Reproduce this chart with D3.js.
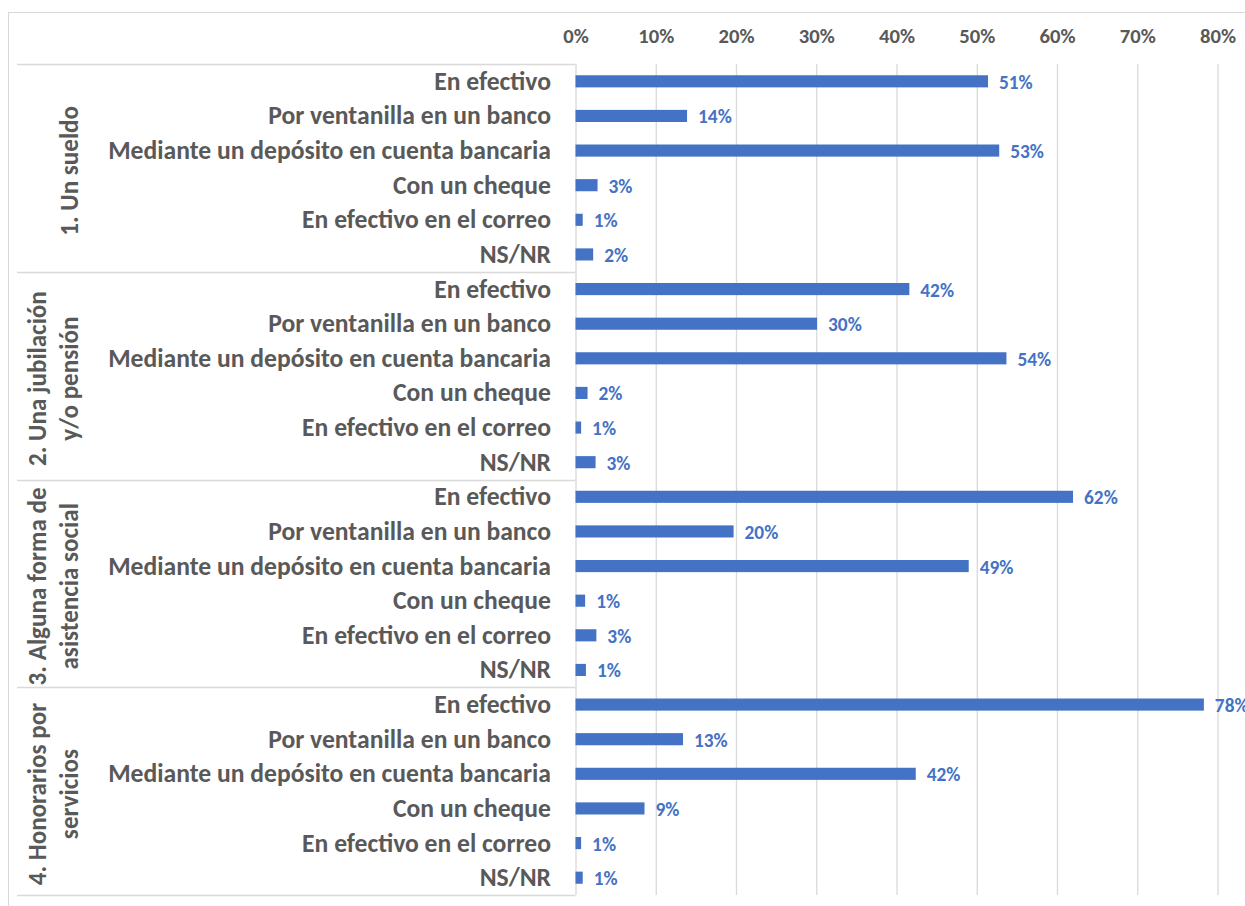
<!DOCTYPE html>
<html>
<head>
<meta charset="utf-8">
<script src="https://cdn.jsdelivr.net/npm/d3@7"></script>
<style>
  html, body { margin: 0; padding: 0; background: #ffffff; }
  svg { display: block; }
</style>
</head>
<body>
<svg id="chart" width="1245" height="906"></svg>
<script>
// ---------- DATA ----------
const groupLines = [
  ["1. Un sueldo"],
  ["2. Una jubilación", "y/o pensión"],
  ["3. Alguna forma de", "asistencia social"],
  ["4. Honorarios por", "servicios"]
];
const methods = [
  "En efectivo",
  "Por ventanilla en un banco",
  "Mediante un depósito en cuenta bancaria",
  "Con un cheque",
  "En efectivo en el correo",
  "NS/NR"
];
const sueldo     = [51.4, 13.9, 52.8, 2.75, 0.9, 2.2];
const jubilacion = [41.6, 30.1, 53.7, 1.5, 0.7, 2.5];
const asistencia = [62.0, 19.7, 49.0, 1.2, 2.6, 1.3];
const honorarios = [78.3, 13.4, 42.4, 8.6, 0.7, 0.9];
const xTicks = [0, 10, 20, 30, 40, 50, 60, 70, 80];

const seriesByGroup = [sueldo, jubilacion, asistencia, honorarios];
const rows = [];
groupLines.forEach((g, gi) => {
  methods.forEach((m, mi) => {
    rows.push({ key: gi + "|" + mi, group: gi, method: m, value: seriesByGroup[gi][mi] });
  });
});

// ---------- LAYOUT ----------
const FONT = "Carlito, Lato, 'Open Sans', sans-serif";
const gray = "#595959";
const lineGray = "#d9d9d9";
const blue = "#4472C4";

const plotLeft = 575.5, plotRight = 1217.5, plotTop = 64, plotBottom = 895;

const svg = d3.select("#chart");

// font fitting helper
function fit(text, target, weight) {
  const t = svg.append("text").attr("font-family", FONT).attr("font-weight", weight)
    .attr("font-size", 100).text(text);
  const w = t.node().getComputedTextLength();
  t.remove();
  return 100 * target / w;
}
const catSize = fit("Mediante un depósito en cuenta bancaria", 443, "bold");
const tickSize = fit("80%", 36, "bold");
const valSize = fit("42%", 33.7, "bold");
const grpSize = (fit("1. Un sueldo", 130, "bold") + fit("3. Alguna forma de", 198, "bold")) / 2;

const x = d3.scaleLinear().domain([0, 80]).range([plotLeft, plotRight]);
const yBar = d3.scaleBand().domain(rows.map(r => r.key)).range([plotTop, plotBottom])
  .paddingInner(0.65).paddingOuter(0.325);
const yRow = d3.scaleBand().domain(rows.map(r => r.key)).range([plotTop, plotBottom]).padding(0);
const yGroup = d3.scaleBand().domain(d3.range(groupLines.length)).range([plotTop, plotBottom]).padding(0);

// outer frame
svg.append("rect")
  .attr("x", 8.5).attr("y", 12.5).attr("width", 1260).attr("height", 920)
  .attr("fill", "none").attr("stroke", lineGray).attr("stroke-width", 1);

// gridlines + top tick labels
const axis = d3.axisTop(x).tickValues(xTicks).tickFormat(d => d + "%")
  .tickSizeInner(-(plotBottom - plotTop)).tickSizeOuter(0).tickPadding(0);
const ax = svg.append("g").attr("transform", `translate(0,${plotTop})`).call(axis);
ax.select(".domain").remove();
ax.selectAll(".tick line").attr("stroke", lineGray).attr("stroke-width", 1.3);
ax.selectAll(".tick text")
  .attr("y", 36 - plotTop).attr("dy", null)
  .attr("dominant-baseline", "central")
  .attr("fill", gray).attr("font-family", FONT).attr("font-weight", "bold")
  .attr("font-size", tickSize);

// category box lines (group separators)
const boundaries = d3.range(groupLines.length + 1).map(i =>
  i < groupLines.length ? yGroup(i) : plotBottom);
svg.append("g").selectAll("line").data(boundaries).join("line")
  .attr("x1", 17).attr("x2", plotLeft)
  .attr("y1", d => Math.round(d) + 0.5).attr("y2", d => Math.round(d) + 0.5)
  .attr("stroke", lineGray).attr("stroke-width", 1.3);

// category labels
svg.append("g").selectAll("text").data(rows).join("text")
  .attr("x", 551)
  .attr("y", d => yRow(d.key) + yRow.bandwidth() / 2)
  .attr("text-anchor", "end").attr("dominant-baseline", "central")
  .attr("fill", gray).attr("font-family", FONT).attr("font-weight", "bold")
  .attr("font-size", catSize)
  .text(d => d.method);

// group labels (rotated)
const gl = svg.append("g");
groupLines.forEach((lines, gi) => {
  const cy = yGroup(gi) + yGroup.bandwidth() / 2 + 3;
  const xs = lines.length === 1 ? [69] : [37, 69];
  lines.forEach((ln, li) => {
    gl.append("text")
      .attr("transform", `translate(${xs[li]},${cy}) rotate(-90)`)
      .attr("text-anchor", "middle").attr("dominant-baseline", "central")
      .attr("fill", gray).attr("font-family", FONT).attr("font-weight", "bold")
      .attr("font-size", grpSize)
      .text(ln);
  });
});

// bars
svg.append("g").selectAll("rect").data(rows).join("rect")
  .attr("x", x(0))
  .attr("y", d => yBar(d.key))
  .attr("width", d => x(d.value) - x(0))
  .attr("height", yBar.bandwidth())
  .attr("fill", blue);

// value labels
svg.append("g").selectAll("text").data(rows).join("text")
  .attr("x", d => x(d.value) + 11)
  .attr("y", d => yRow(d.key) + yRow.bandwidth() / 2 + 1)
  .attr("dominant-baseline", "central")
  .attr("fill", blue).attr("font-family", FONT).attr("font-weight", "bold")
  .attr("font-size", valSize)
  .text(d => Math.round(d.value) + "%");
</script>
</body>
</html>
